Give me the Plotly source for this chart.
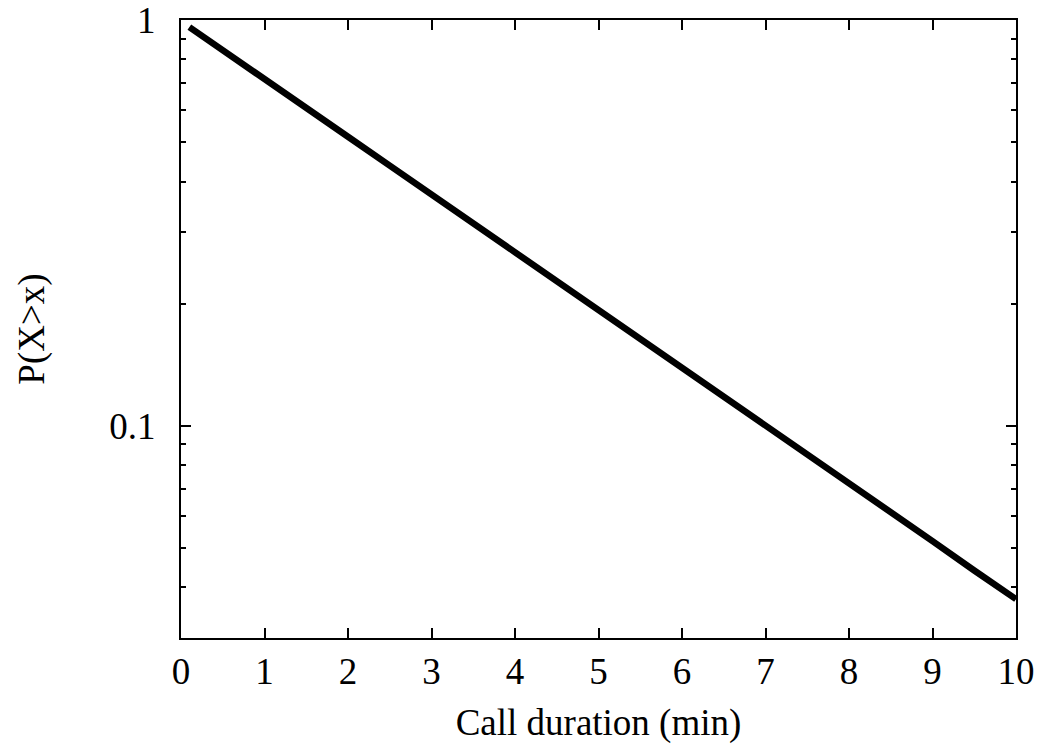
import plotly.graph_objects as go

# Data (complementary CDF of call duration)
duration_min = [0.1, 0.5, 1, 1.5, 2, 2.5, 3, 3.5, 4, 4.5, 5, 5.5, 6, 6.5, 7,
                7.5, 8, 8.5, 9, 9.5, 10]
p_exceed = [0.961, 0.845, 0.717, 0.608, 0.516, 0.438, 0.372, 0.316, 0.267,
            0.228, 0.193, 0.164, 0.139, 0.118, 0.100, 0.0852, 0.0723,
            0.0615, 0.0520, 0.0440, 0.0374]

x_ticks = list(range(0, 11))
y_ticks = [0.1, 1]
y_tick_text = ["0.1", "1"]
y_minor = [0.03, 0.04, 0.05, 0.06, 0.07, 0.08, 0.09,
           0.2, 0.3, 0.4, 0.5, 0.6, 0.7, 0.8, 0.9]

FONT = "Liberation Serif"
FS = 37

fig = go.Figure()
fig.add_trace(go.Scatter(
    x=duration_min, y=p_exceed, mode="lines",
    line=dict(color="black", width=6.5),
    showlegend=False, cliponaxis=True,
))

fig.update_layout(
    width=1046, height=750,
    margin=dict(l=181, r=30, t=20, b=112),
    paper_bgcolor="white", plot_bgcolor="white",
    font=dict(family=FONT, size=FS, color="black"),
)
fig.update_xaxes(
    range=[0, 10], tickvals=x_ticks, ticktext=[str(v) for v in x_ticks],
    tickfont=dict(family=FONT, size=FS),
    ticks="inside", ticklen=10, tickwidth=1.5, tickcolor="black",
    showline=True, linecolor="black", linewidth=2, mirror="ticks",
    showgrid=False, zeroline=False, automargin=False,
    ticklabelstandoff=0,
    title=dict(text="Call duration (min)", font=dict(family=FONT, size=FS), standoff=18),
)
fig.update_yaxes(
    type="log", range=[-1.5229, 0.0004], tickvals=y_ticks, ticktext=y_tick_text,
    tickfont=dict(family=FONT, size=FS),
    ticks="inside", ticklen=10, tickwidth=1.5, tickcolor="black",
    showline=True, linecolor="black", linewidth=2, mirror="ticks",
    showgrid=False, zeroline=False, automargin=False,
    ticklabelstandoff=16,
    minor=dict(tickmode="array", tickvals=y_minor, ticks="inside", ticklen=5,
               tickwidth=1.5, tickcolor="black", showgrid=False),
    title=dict(text="P(X>x)", font=dict(family=FONT, size=FS), standoff=53),
)

fig.write_html("out.html")
